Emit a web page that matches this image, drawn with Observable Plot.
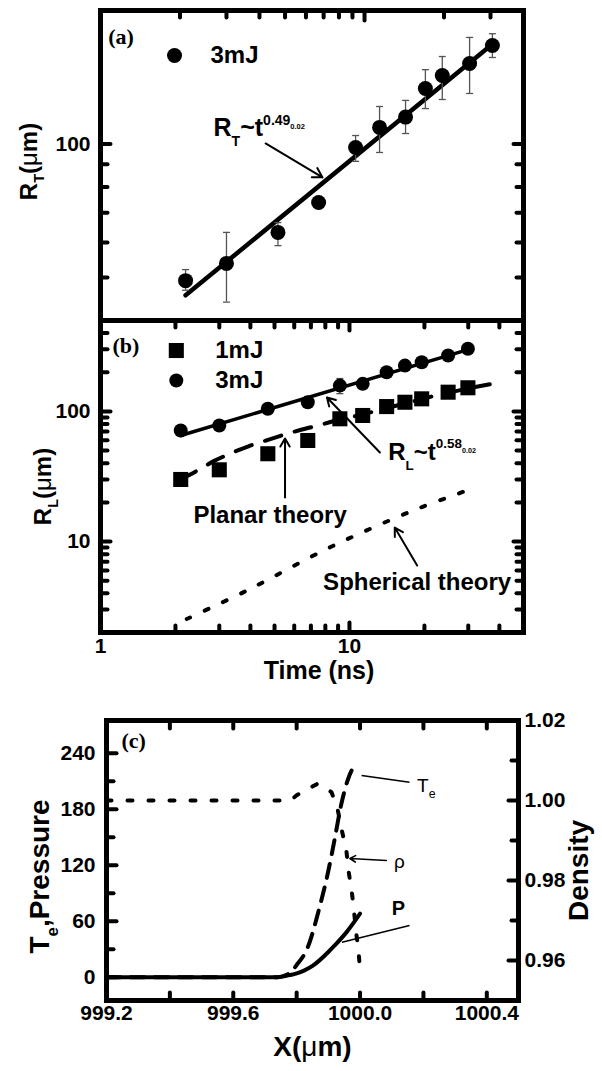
<!DOCTYPE html>
<html><head><meta charset="utf-8">
<script src="https://cdn.jsdelivr.net/npm/d3@7"></script>
<script src="https://cdn.jsdelivr.net/npm/@observablehq/plot@0.6"></script>
<style>
html,body{margin:0;padding:0;background:#fff;}
#fig{position:relative;width:602px;height:1071px;overflow:hidden;background:#fff;}
#fig svg{position:absolute;left:0;}
</style></head>
<body><div id="fig"></div>
<script>
// ---------------- Panel (a): transverse radius, 3mJ ----------------
const timesA  = [2.1, 3.0, 4.7, 6.7, 9.25, 11.4, 14.3, 17.0, 19.7, 25.0, 30.5];
const rT3mJ   = [49.2, 53.8, 63.2, 73.8, 98.2, 109, 115, 133.4, 142.7, 151.9, 166.8];
const rTLow   = [46.8, 44.0, 59.0, 72.5, 91.4, 95.7, 105.6, 120.2, 126.0, 130.0, 156.7];
const rTHigh  = [52.1, 63.2, 66.5, 75.0, 104.5, 121.5, 125.4, 147.1, 157.5, 173.9, 177.3];
const fitATimes  = [2.1, 30.7];
const fitARadius = [45.6, 168.5];

// ---------------- Panel (b): longitudinal radius ----------------
const timesB  = [2.1, 3.0, 4.7, 6.8, 9.15, 11.3, 14.1, 16.7, 19.5, 24.9, 29.9];
const rL1mJ   = [30, 35.6, 47.3, 59.8, 87.8, 93.1, 109, 117.7, 125, 140.6, 152];
const rL3mJ   = [71.3, 78, 104.8, 117.7, 158, 163, 200, 225, 239, 269, 303];
const errBTime = [9.15];
const errBLow  = [137];
const errBHigh = [179];
const fitBTimes  = [2.1, 30.6];
const fitBRadius = [65.3, 303];
const planarTimes  = [2.1, 2.44, 2.85, 3.32, 3.93, 4.58, 5.43, 6.34, 7.49, 8.6, 11.3, 14.1, 16.7, 21.7, 27, 36.6];
const planarRadius = [30, 35, 41.5, 47.5, 54, 59.5, 66, 72, 78, 84, 95, 106, 115, 131, 144, 162];
const sphericalTimes  = [2.22, 3.87, 8.36, 18.0, 31.8];
const sphericalRadius = [2.54, 4.2, 9.04, 17.3, 25.9];

// ---------------- Panel (c): profiles ----------------
const xP  = [999.2, 999.5, 999.74, 999.76, 999.8, 999.823, 999.85, 999.872, 999.9, 999.92, 999.957, 1000.0];
const pressure = [0, 0, 0, 1, 4, 7, 12, 18, 27, 34, 48, 68];
const xTe = [999.2, 999.5, 999.74, 999.78, 999.8, 999.835, 999.87, 999.9, 999.92, 999.94, 999.96, 999.98];
const temperature = [0, 0, 0, 5, 13, 32, 72, 114, 148, 184, 210, 226];
const xRho = [999.2, 999.5, 999.78, 999.8, 999.866, 999.91, 999.93, 999.944, 999.957, 999.963, 999.975, 999.981, 999.988, 999.995, 1000.0];
const density = [1.0, 1.0, 1.0, 1.0013, 1.0042, 1.0021, 0.9975, 0.992, 0.9874, 0.9828, 0.9765, 0.9723, 0.9668, 0.9626, 0.9576];

// ---------------- Tick values ----------------
const aXMinor = [2,3,4,5,6,7,8,9,20,30];
const aXMajor = [10];
const aYMajor = [100];
const aYMinor = [50,60,70,80,90];
const bXLabels = [1, 10];
const bXMajor = [10];
const bXMinor = [2,3,4,5,6,7,8,9,20,30,40];
const bYMajor = [10, 100];
const bYMinor = [3,4,5,6,7,8,9,20,30,40,50,60,70,80,90,200,300,400];
const cXLabels = [999.2, 999.6, 1000.0, 1000.4];
const cXTicks = [999.4, 999.6, 999.8, 1000.0, 1000.2, 1000.4];
const cYLabels = [0, 60, 120, 180, 240];
const cYMajor = [0, 60, 120, 180, 240];
const cYMinor = [30, 90, 150, 210];
const dYLabels = [0.96, 0.98, 1.00, 1.02];
const dYMajor = [0.96, 0.98, 1.00];
const dYMinor = [0.97, 0.99, 1.01];

// ---------------- Rich text (sub/superscripts) ----------------
const RICH = {
  "R_T(μm)": [["R"],["T",0.6,0.3],["("],["μ",1,0,"normal"],["m)"]],
  "R_L(μm)": [["R"],["L",0.6,0.3],["("],["μ",1,0,"normal"],["m)"]],
  "R_T~t^0.49_0.02": [["R"],["T",0.56,0.4],["~t"],["0.49",0.56,-0.45],["0.02",0.3,-0.3]],
  "R_L~t^0.58_0.02": [["R"],["L",0.56,0.4],["~t"],["0.58",0.56,-0.5],["0.02",0.3,-0.3]],
  "T_e": [["T"],["e",0.65,0.35]],
  "T_e,Pressure": [["T"],["e",0.6,0.3],[",Pressure"]],
  "X(μm)": [["X("],["μ",1,0,"normal"],["m)"]]
};
function enrich(svg) {
  svg.querySelectorAll("text").forEach(el => {
    const segs = RICH[el.textContent];
    if (!segs) return;
    const fs = parseFloat(getComputedStyle(el).fontSize);
    el.textContent = "";
    let prev = 0;
    segs.forEach(([txt, scale = 1, shift = 0, weight]) => {
      const ts = document.createElementNS("http://www.w3.org/2000/svg", "tspan");
      ts.textContent = txt;
      if (scale !== 1) ts.setAttribute("font-size", (fs * scale).toFixed(2));
      if (shift !== prev) ts.setAttribute("dy", ((shift - prev) * fs).toFixed(2));
      if (weight) ts.setAttribute("font-weight", weight);
      prev = shift;
      el.appendChild(ts);
    });
  });
}

// ---------------- Helpers ----------------
const W = 602;
const SANS = "'Liberation Sans', Arial, Helvetica, sans-serif";
const SERIF = "'Liberation Serif', 'Times New Roman', serif";
const STYLE = {fontFamily: SANS, fontWeight: "bold", fontSize: "21px", background: "transparent", overflow: "visible", color: "black"};
const capSymbol = {draw(ctx, size) { const w = Math.sqrt(size / Math.PI); ctx.moveTo(-w, 0); ctx.lineTo(w, 0); }};
const tickShape = {draw(ctx, l) { ctx.moveTo(0, 0); ctx.lineTo(0, -l); }};
const MAJ = 10, MIN = 7;

// inward frame ticks drawn as short vectors anchored on the frame edges
function ticksY(values, len, side) {
  return Plot.vector(values, {y: d => d, frameAnchor: side, length: len, rotate: side === "left" ? 90 : -90,
    anchor: "start", shape: tickShape, stroke: "black", strokeWidth: 4, strokeLinecap: "round"});
}
function ticksX(values, len, side) {
  return Plot.vector(values, {x: d => d, frameAnchor: side, length: len, rotate: side === "bottom" ? 0 : 180,
    anchor: "start", shape: tickShape, stroke: "black", strokeWidth: 4, strokeLinecap: "round"});
}
function label(s, o) { return Plot.text([s], {text: d => d, ...o}); }

const fig = document.getElementById("fig");
function place(svg, top) { svg.style.top = top + "px"; fig.appendChild(svg); enrich(svg); }

// ---------------- Panel (a) ----------------
{
  const G = {top: 0, height: 322, mt: 10, mb: 2, ml: 100, mr: 79};
  const data = timesA.map((t, i) => ({t, r: rT3mJ[i], lo: rTLow[i], hi: rTHigh[i]}));
  const fit = fitATimes.map((t, i) => ({t, r: fitARadius[i]}));
  const svg = Plot.plot({
    width: W, height: G.height, marginTop: G.mt, marginBottom: G.mb, marginLeft: G.ml, marginRight: G.mr,
    style: STYLE,
    x: {type: "log", domain: [1, 40], axis: null},
    y: {type: "log", domain: [40, 200], axis: null},
    marks: [
      ticksY(aYMajor, MAJ, "left"), ticksY(aYMajor, MAJ, "right"),
      ticksY(aYMinor, MIN, "left"), ticksY(aYMinor, MIN, "right"),
      ticksX(aXMajor, MAJ, "top"), ticksX(aXMinor, MIN, "top"),
      Plot.line(fit, {x: "t", y: "r", stroke: "black", strokeWidth: 4.5}),
      Plot.ruleX(data, {x: "t", y1: "lo", y2: "hi", stroke: "#555", strokeWidth: 1.3}),
      Plot.dot(data, {x: "t", y: "lo", symbol: capSymbol, r: 3.5, fill: "none", stroke: "#555", strokeWidth: 1.3}),
      Plot.dot(data, {x: "t", y: "hi", symbol: capSymbol, r: 3.5, fill: "none", stroke: "#555", strokeWidth: 1.3}),
      Plot.dot(data, {x: "t", y: "r", r: 7.5, fill: "black"}),
      Plot.dot([{t: 1.907, r: 158.3}], {x: "t", y: "r", r: 7.5, fill: "black"}),
      label("3mJ", {x: 2.61, y: 158.3, textAnchor: "start", fontSize: 24}),
      label("(a)", {x: 1.07, y: 174, textAnchor: "start", fontSize: 22, fontFamily: SERIF}),
      label("R_T~t^0.49_0.02", {x: 2.68, y: 108.4, textAnchor: "start", fontSize: 25}),
      Plot.arrow([{x1: 4.22, y1: 100.3, x2: 6.93, y2: 84.1}], {x1: "x1", y1: "y1", x2: "x2", y2: "y2", strokeWidth: 2, headLength: 8}),
      Plot.axisY({ticks: aYMajor, tickSize: 0, tickPadding: 10, label: null, tickFormat: d => String(d), fontSize: 21, fontWeight: "bold"}),
      label("R_T(μm)", {frameAnchor: "left", textAnchor: "middle", dx: -71, dy: -4, rotate: -90, fontSize: 24}),
      Plot.frame({stroke: "black", strokeWidth: 5})
    ]
  });
  place(svg, G.top);
}

// ---------------- Panel (b) ----------------
{
  const G = {top: 318, height: 384, mt: 2, mb: 70, ml: 100, mr: 79};
  const d1 = timesB.map((t, i) => ({t, r: rL1mJ[i]}));
  const d3m = timesB.map((t, i) => ({t, r: rL3mJ[i]}));
  const err = errBTime.map((t, i) => ({t, lo: errBLow[i], hi: errBHigh[i]}));
  const fit = fitBTimes.map((t, i) => ({t, r: fitBRadius[i]}));
  const planar = planarTimes.map((t, i) => ({t, r: planarRadius[i]}));
  const sph = sphericalTimes.map((t, i) => ({t, r: sphericalRadius[i]}));
  const svg = Plot.plot({
    width: W, height: G.height, marginTop: G.mt, marginBottom: G.mb, marginLeft: G.ml, marginRight: G.mr,
    style: STYLE,
    x: {type: "log", domain: [1, 50], axis: null},
    y: {type: "log", domain: [2, 500], axis: null},
    marks: [
      ticksY(bYMajor, MAJ, "left"), ticksY(bYMajor, MAJ, "right"),
      ticksY(bYMinor, MIN, "left"), ticksY(bYMinor, MIN, "right"),
      ticksX(bXMajor, MAJ, "top"), ticksX(bXMinor, MIN, "top"),
      ticksX(bXMajor, MAJ, "bottom"), ticksX(bXMinor, MIN, "bottom"),
      Plot.line(sph, {x: "t", y: "r", stroke: "black", strokeWidth: 4, strokeDasharray: "4,16", curve: "catmull-rom"}),
      Plot.line(planar, {x: "t", y: "r", stroke: "black", strokeWidth: 4, strokeDasharray: "17,14", curve: "catmull-rom"}),
      Plot.line(fit, {x: "t", y: "r", stroke: "black", strokeWidth: 3.5}),
      Plot.ruleX(err, {x: "t", y1: "lo", y2: "hi", stroke: "#555", strokeWidth: 1.3}),
      Plot.dot(err, {x: "t", y: "lo", symbol: capSymbol, r: 3.5, fill: "none", stroke: "#555", strokeWidth: 1.3}),
      Plot.dot(err, {x: "t", y: "hi", symbol: capSymbol, r: 3.5, fill: "none", stroke: "#555", strokeWidth: 1.3}),
      Plot.dot(d1, {x: "t", y: "r", r: 8.5, symbol: "square", fill: "black"}),
      Plot.dot(d3m, {x: "t", y: "r", r: 7, fill: "black"}),
      Plot.dot([{t: 2.016, r: 294}], {x: "t", y: "r", r: 8.5, symbol: "square", fill: "black"}),
      Plot.dot([{t: 2.016, r: 173}], {x: "t", y: "r", r: 7, fill: "black"}),
      label("1mJ", {x: 2.89, y: 294, textAnchor: "start", fontSize: 24}),
      label("3mJ", {x: 2.89, y: 173, textAnchor: "start", fontSize: 24}),
      label("(b)", {x: 1.117, y: 321, textAnchor: "start", fontSize: 22, fontFamily: SERIF}),
      label("R_L~t^0.58_0.02", {x: 14.3, y: 48.4, textAnchor: "start", fontSize: 24}),
      Plot.arrow([{x1: 13.25, y1: 48.4, x2: 8.12, y2: 128}], {x1: "x1", y1: "y1", x2: "x2", y2: "y2", strokeWidth: 2, headLength: 7}),
      label("Planar theory", {x: 4.8, y: 15.8, fontSize: 24}),
      Plot.arrow([{x1: 5.51, y1: 21.8, x2: 5.51, y2: 62}], {x1: "x1", y1: "y1", x2: "x2", y2: "y2", strokeWidth: 2, headLength: 7}),
      label("Spherical theory", {x: 18.7, y: 4.83, fontSize: 24}),
      Plot.arrow([{x1: 18.7, y1: 6.54, x2: 15.2, y2: 12.8}], {x1: "x1", y1: "y1", x2: "x2", y2: "y2", strokeWidth: 2, headLength: 7}),
      Plot.axisY({ticks: bYMajor, tickSize: 0, tickPadding: 10, label: null, tickFormat: d => String(d), fontSize: 21, fontWeight: "bold"}),
      Plot.axisX({ticks: bXLabels, tickSize: 0, tickPadding: 6, label: null, tickFormat: d => String(d), fontSize: 21, fontWeight: "bold"}),
      label("R_L(μm)", {frameAnchor: "left", textAnchor: "middle", dx: -57, dy: 10, rotate: -90, fontSize: 24}),
      label("Time (ns)", {frameAnchor: "bottom", textAnchor: "middle", dx: 7, dy: 46, fontSize: 25}),
      Plot.frame({stroke: "black", strokeWidth: 5})
    ]
  });
  place(svg, G.top);
}

// ---------------- Panel (c) ----------------
{
  const G = {top: 702, height: 369, mt: 18, mb: 71, ml: 106, mr: 84};
  const pData = xP.map((x, i) => ({x, v: pressure[i]}));
  const teData = xTe.map((x, i) => ({x, v: temperature[i]}));
  const rhoData = xRho.map((x, i) => ({x, v: density[i]}));
  const left = Plot.plot({
    width: W, height: G.height, marginTop: G.mt, marginBottom: G.mb, marginLeft: G.ml, marginRight: G.mr,
    style: STYLE,
    x: {domain: [999.2, 1000.5], axis: null},
    y: {domain: [-25, 275], axis: null},
    marks: [
      ticksY(cYMajor, MAJ, "left"), ticksY(cYMinor, MIN, "left"),
      ticksX(cXTicks, MIN + 1, "top"), ticksX(cXTicks, MIN + 1, "bottom"),
      Plot.line(teData, {x: "x", y: "v", stroke: "black", strokeWidth: 4, strokeDasharray: "14,10", curve: "monotone-x"}),
      Plot.line(pData, {x: "x", y: "v", stroke: "black", strokeWidth: 4, curve: "monotone-x"}),
      label("(c)", {x: 999.247, y: 253.6, textAnchor: "start", fontSize: 22, fontFamily: SERIF}),
      label("T_e", {x: 1000.18, y: 205.4, textAnchor: "start", fontSize: 19, fontWeight: "normal"}),
      Plot.link([{x1: 1000.005, y1: 216, x2: 1000.156, y2: 208.9}], {x1: "x1", y1: "y1", x2: "x2", y2: "y2", stroke: "black", strokeWidth: 1.6}),
      label("ρ", {x: 1000.107, y: 123.9, textAnchor: "start", fontSize: 19, fontWeight: "normal"}),
      Plot.arrow([{x1: 1000.083, y1: 125, x2: 999.968, y2: 127.1}], {x1: "x1", y1: "y1", x2: "x2", y2: "y2", strokeWidth: 1.6, headLength: 6}),
      label("P", {x: 1000.10, y: 73.6, textAnchor: "start", fontSize: 20}),
      Plot.link([{x1: 999.943, y1: 37.5, x2: 1000.156, y2: 55.4}], {x1: "x1", y1: "y1", x2: "x2", y2: "y2", stroke: "black", strokeWidth: 1.6}),
      Plot.axisY({ticks: cYLabels, tickSize: 0, tickPadding: 11, label: null, fontSize: 21, fontWeight: "bold"}),
      Plot.axisX({ticks: cXLabels, tickSize: 0, tickPadding: 5, label: null, tickFormat: d3.format(".1f"), fontSize: 21, fontWeight: "bold"}),
      label("T_e,Pressure", {frameAnchor: "left", textAnchor: "middle", dx: -66, dy: 16, rotate: -90, fontSize: 28}),
      label("X(μm)", {frameAnchor: "bottom", textAnchor: "middle", dy: 55, fontSize: 28}),
      Plot.frame({stroke: "black", strokeWidth: 5})
    ]
  });
  place(left, G.top);
  const right = Plot.plot({
    width: W, height: G.height, marginTop: G.mt, marginBottom: G.mb, marginLeft: G.ml, marginRight: G.mr,
    style: STYLE,
    x: {domain: [999.2, 1000.5], axis: null},
    y: {domain: [0.95, 1.02], axis: null},
    marks: [
      ticksY(dYMajor, MAJ, "right"), ticksY(dYMinor, MIN, "right"),
      Plot.line(rhoData, {x: "x", y: "v", stroke: "black", strokeWidth: 4, strokeDasharray: "5,16"}),
      Plot.axisY({anchor: "right", ticks: dYLabels, tickSize: 0, tickPadding: 6, label: null, tickFormat: d3.format(".2f"), fontSize: 21, fontWeight: "bold"}),
      label("Density", {frameAnchor: "right", textAnchor: "middle", dx: 61, dy: 10, rotate: -90, fontSize: 28})
    ]
  });
  place(right, G.top);
}
</script>
</body></html>
